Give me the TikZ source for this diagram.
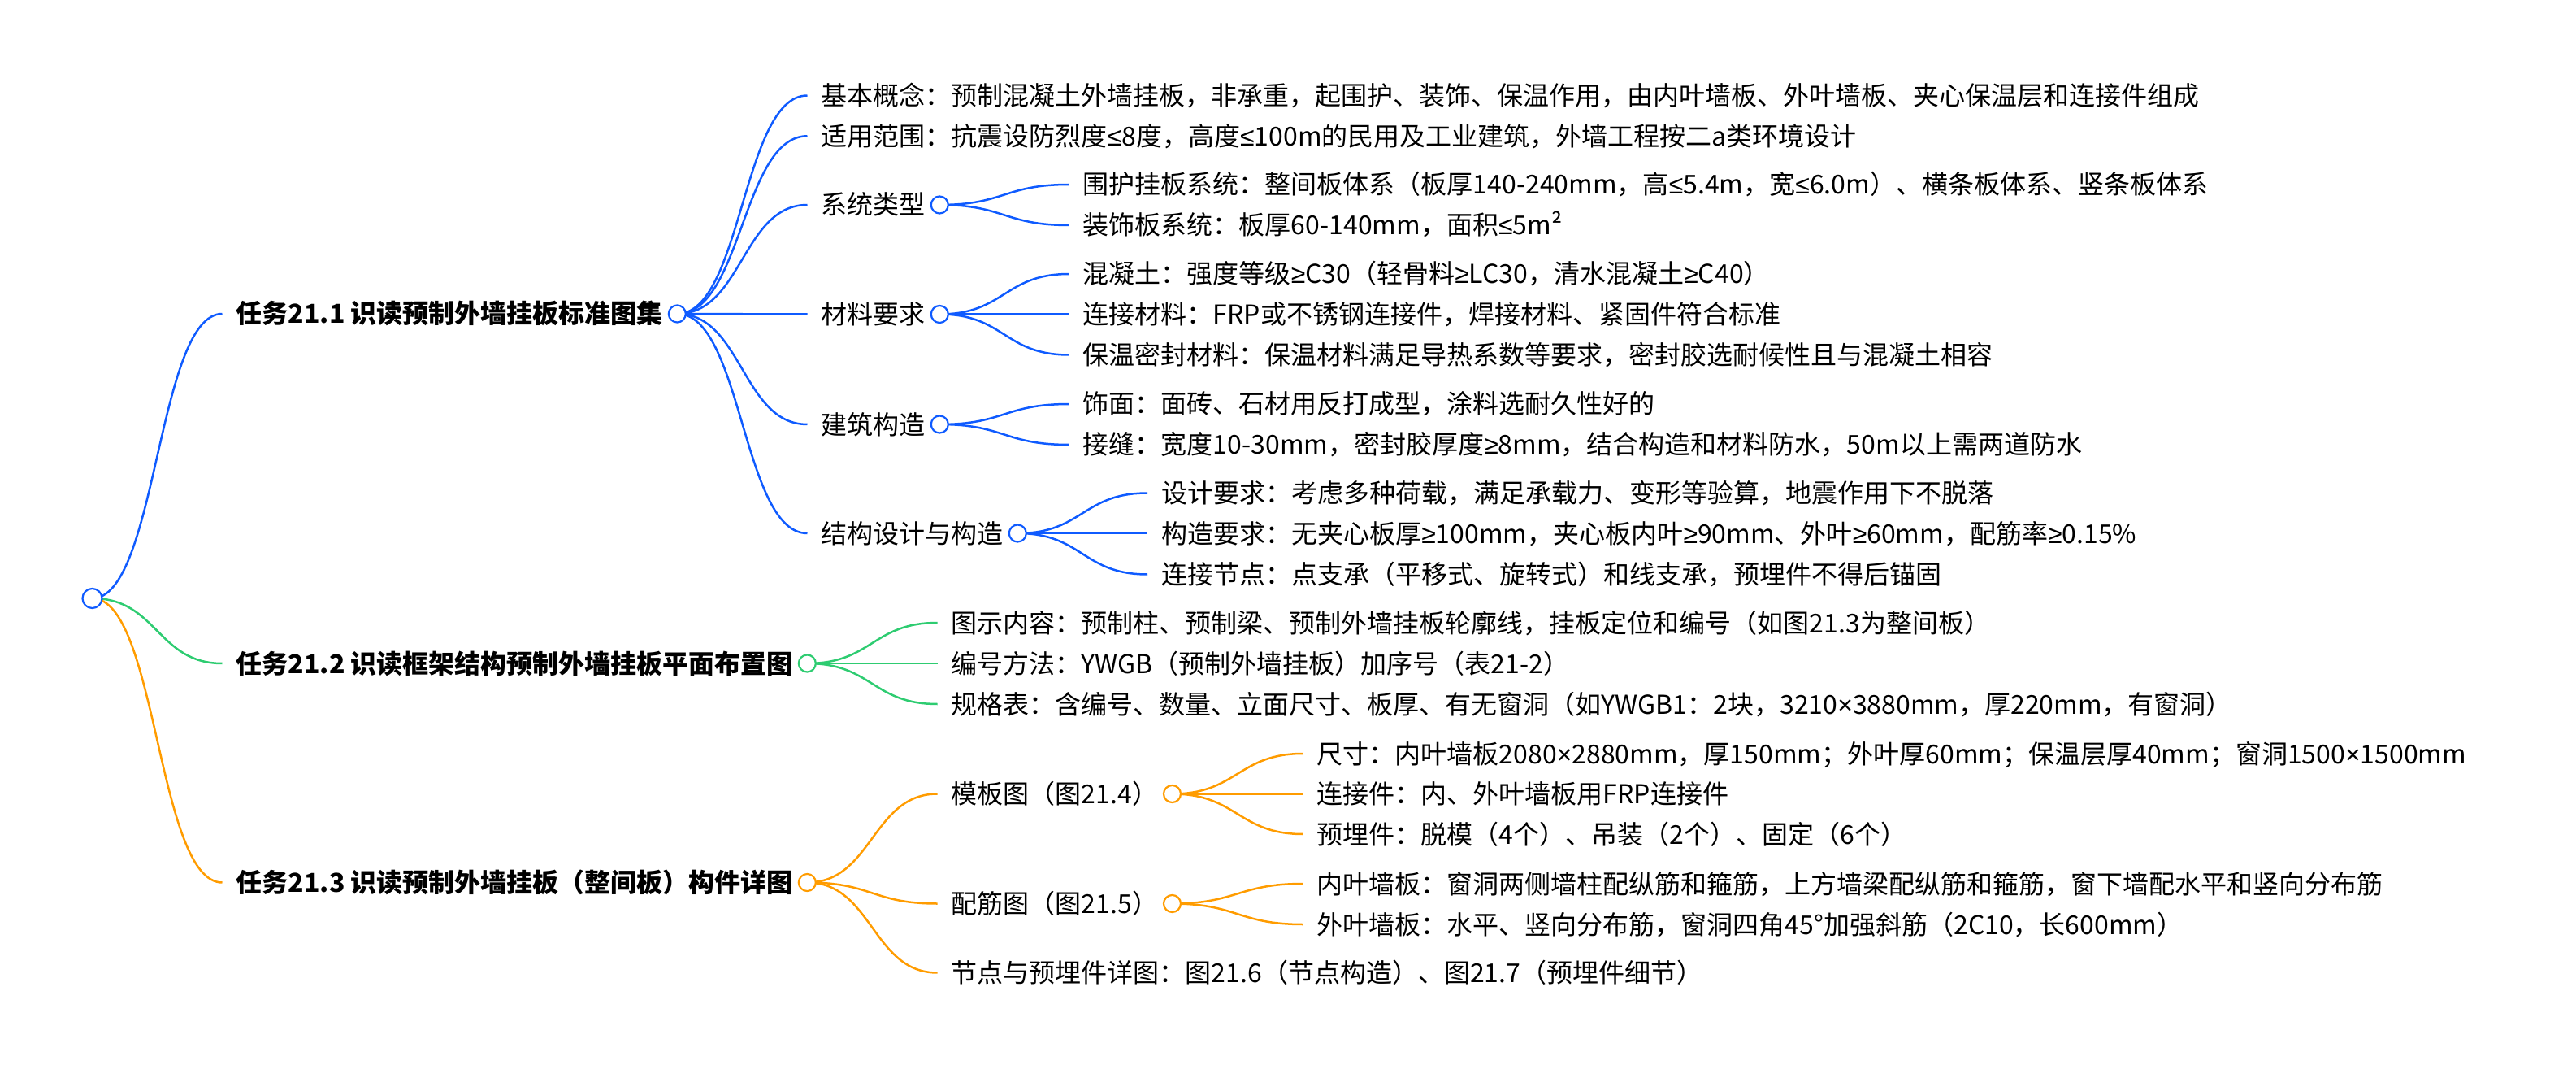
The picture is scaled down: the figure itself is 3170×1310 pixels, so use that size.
\documentclass[tikz,border=0pt]{standalone}
\usepackage{fontspec}
\setmainfont{Noto Sans CJK SC}
\newfontfamily\symf{Liberation Sans}
\newcommand\lesym{{\symf ≤}}
\newcommand\gesym{{\symf ≥}}
\newcommand\timessym{{\symf ×}}
\definecolor{mmblue}{HTML}{0F5BFF}
\definecolor{mmgreen}{HTML}{2ECC71}
\definecolor{mmorange}{HTML}{FF9C00}
\begin{document}
\begin{tikzpicture}[x=0.5pt, y=-0.5pt]
	\tikzstyle{topic} = [anchor=west,inner xsep=8.5pt,inner ysep=0pt,text height=14pt,text depth=2pt,font={\fontsize{16}{19}\selectfont\bfseries}]
	\tikzstyle{item} = [anchor=west,inner xsep=8.5pt,inner ysep=0pt,text height=14pt,text depth=2pt,font={\fontsize{16}{19}\selectfont}]
	\tikzstyle{knob} = [circle,draw,fill=white,line width=1.1pt,minimum size=10.5pt,inner sep=0pt]
	\tikzstyle{link} = [line width=1.25pt,to path={.. controls +(80,0) and +(-80,0) .. (\tikztotarget)}]
	\fill[white] (0,0) rectangle (3170,1310);
	\useasboundingbox (0,0) rectangle (3170,1310);
	\coordinate (root) at (113.5,736);
	% level 1
	\node[topic](t1)at (273.5,386){任务21.1 识读预制外墙挂板标准图集};
	\node[topic](t2)at (273.5,816){任务21.2 识读框架结构预制外墙挂板平面布置图};
	\node[topic](t3)at (273.5,1085.5){任务21.3 识读预制外墙挂板（整间板）构件详图};
	% task 21.1
	\node[item](concept)at (993.5,117.5){基本概念：预制混凝土外墙挂板，非承重，起围护、装饰、保温作用，由内叶墙板、外叶墙板、夹心保温层和连接件组成};
	\node[item](range)at (993.5,167.3){适用范围：抗震设防烈度\lesym8度，高度\lesym100m的民用及工业建筑，外墙工程按二a类环境设计};
	\node[item](system)at (993.5,252){系统类型};
	\node[item](material)at (993.5,386.5){材料要求};
	\node[item](archi)at (993.5,522){建筑构造};
	\node[item](struct)at (993.5,656){结构设计与构造};
	\node[item](sysa)at (1315.5,227){围护挂板系统：整间板体系（板厚140-240mm，高\lesym5.4m，宽\lesym6.0m）、横条板体系、竖条板体系};
	\node[item](sysb)at (1315.5,277){装饰板系统：板厚60-140mm，面积\lesym5m²};
	\node[item](mata)at (1315.5,337){混凝土：强度等级\gesym C30（轻骨料\gesym LC30，清水混凝土\gesym C40）};
	\node[item](matb)at (1315.5,386.5){连接材料：FRP或不锈钢连接件，焊接材料、紧固件符合标准};
	\node[item](matc)at (1315.5,436.5){保温密封材料：保温材料满足导热系数等要求，密封胶选耐候性且与混凝土相容};
	\node[item](archa)at (1315.5,497){饰面：面砖、石材用反打成型，涂料选耐久性好的};
	\node[item](archb)at (1315.5,547){接缝：宽度10-30mm，密封胶厚度\gesym8mm，结合构造和材料防水，50m以上需两道防水};
	\node[item](structa)at (1412,606.5){设计要求：考虑多种荷载，满足承载力、变形等验算，地震作用下不脱落};
	\node[item](structb)at (1412,656){构造要求：无夹心板厚\gesym100mm，夹心板内叶\gesym90mm、外叶\gesym60mm，配筋率\gesym0.15\%};
	\node[item](structc)at (1412,706.5){连接节点：点支承（平移式、旋转式）和线支承，预埋件不得后锚固};
	% task 21.2
	\node[item](drawn)at (1153.5,766){图示内容：预制柱、预制梁、预制外墙挂板轮廓线，挂板定位和编号（如图21.3为整间板）};
	\node[item](number)at (1153.5,816){编号方法：YWGB（预制外墙挂板）加序号（表21-2）};
	\node[item](table)at (1153.5,866){规格表：含编号、数量、立面尺寸、板厚、有无窗洞（如YWGB1：2块，3210\timessym3880mm，厚220mm，有窗洞）};
	% task 21.3
	\node[item](mould)at (1153.5,976.5){模板图（图21.4）};
	\node[item](rebar)at (1153.5,1111.5){配筋图（图21.5）};
	\node[item](joint)at (1153.5,1196.5){节点与预埋件详图：图21.6（节点构造）、图21.7（预埋件细节）};
	\node[item](moulda)at (1603.5,927){尺寸：内叶墙板2080\timessym2880mm，厚150mm；外叶厚60mm；保温层厚40mm；窗洞1500\timessym1500mm};
	\node[item](mouldb)at (1603.5,976.5){连接件：内、外叶墙板用FRP连接件};
	\node[item](mouldc)at (1603.5,1026){预埋件：脱模（4个）、吊装（2个）、固定（6个）};
	\node[item](rebara)at (1603.5,1087){内叶墙板：窗洞两侧墙柱配纵筋和箍筋，上方墙梁配纵筋和箍筋，窗下墙配水平和竖向分布筋};
	\node[item](rebarb)at (1603.5,1137){外叶墙板：水平、竖向分布筋，窗洞四角45°加强斜筋（2C10，长600mm）};
	% links
	\path[link,draw=mmblue] (root) edge (t1.west);
	\path[link,draw=mmgreen] (root) edge (t2.west);
	\path[link,draw=mmorange] (root) edge (t3.west);
	\path[link,draw=mmblue] (t1.east) edge (concept.west) edge (range.west) edge (system.west)
	edge (material.west) edge (archi.west) edge (struct.west);
	\path[link,draw=mmblue] (system.east) edge (sysa.west) edge (sysb.west);
	\path[link,draw=mmblue] (material.east) edge (mata.west) edge (matb.west) edge (matc.west);
	\path[link,draw=mmblue] (archi.east) edge (archa.west) edge (archb.west);
	\path[link,draw=mmblue] (struct.east) edge (structa.west) edge (structb.west) edge (structc.west);
	\path[link,draw=mmgreen] (t2.east) edge (drawn.west) edge (number.west) edge (table.west);
	\path[link,draw=mmorange] (t3.east) edge (mould.west) edge (rebar.west) edge (joint.west);
	\path[link,draw=mmorange] (mould.east) edge (moulda.west) edge (mouldb.west) edge (mouldc.west);
	\path[link,draw=mmorange] (rebar.east) edge (rebara.west) edge (rebarb.west);
	% circles
	\node[knob,draw=mmblue,minimum size=12pt] at (root){};
	\node[knob,draw=mmblue] at (t1.east){};
	\node[knob,draw=mmgreen] at (t2.east){};
	\node[knob,draw=mmorange] at (t3.east){};
	\node[knob,draw=mmblue] at (system.east){};
	\node[knob,draw=mmblue] at (material.east){};
	\node[knob,draw=mmblue] at (archi.east){};
	\node[knob,draw=mmblue] at (struct.east){};
	\node[knob,draw=mmorange] at (mould.east){};
	\node[knob,draw=mmorange] at (rebar.east){};
\end{tikzpicture}
\end{document}
